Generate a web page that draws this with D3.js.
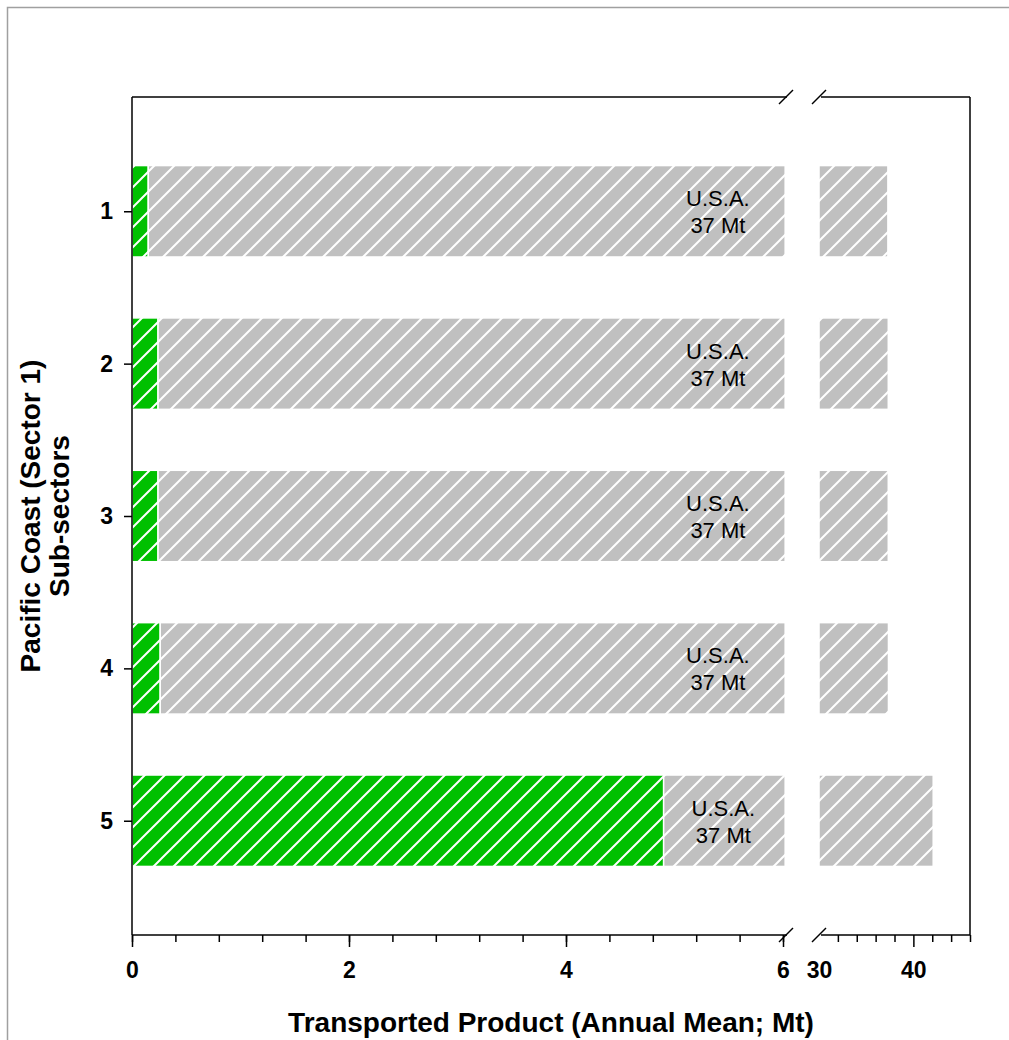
<!DOCTYPE html>
<html>
<head>
<meta charset="utf-8">
<script src="https://cdn.jsdelivr.net/npm/d3@7"></script>
<style>
  body { margin: 0; background: #fff; }
  text { font-family: "Liberation Sans", Arial, sans-serif; }
</style>
</head>
<body>
<div id="chart"></div>
<script>
// sub-sector values (Mt) and the U.S.A. block stacked after them
var subsectors = [1, 2, 3, 4, 5];
var sectorValues = [0.15, 0.24, 0.24, 0.26, 4.9];
var usaValues = [37.15, 37.1, 37.1, 37.1, 37.2];
var usaLabel = ["U.S.A.", "37 Mt"];
var leftMajorTicks = [0, 2, 4, 6];
var rightMajorTicks = [30, 40];
var rightMinorTicks = [32, 34, 36, 38, 42, 44, 46];

var W = 1009, H = 1040;
var top0 = 97, bottom0 = 935, left0 = 132, right0 = 970;

var svg = d3.select("#chart").append("svg")
  .attr("width", W)
  .attr("height", H);

// hatch pattern (lines run across both colours)
var defs = svg.append("defs");
["green", "gray"].forEach(function(name) {
  var p = defs.append("pattern")
    .attr("id", "hatch-" + name)
    .attr("patternUnits", "userSpaceOnUse")
    .attr("width", 20).attr("height", 20);
  p.append("rect").attr("width", 20).attr("height", 20)
    .attr("fill", name == "green" ? "#00c000" : "#c0c0c0");
  p.append("path")
    .attr("d", "M-5,5 L5,-5 M0,20 L20,0 M15,25 L25,15")
    .attr("stroke", "#fff").attr("stroke-width", 2);
});

// outer frame of the figure (only top and left visible)
svg.append("path")
  .attr("d", "M7.5," + H + " L7.5,7.5 L" + W + ",7.5")
  .attr("fill", "none").attr("stroke", "#a0a0a0").attr("stroke-width", 1.5);

var xLeft = d3.scaleLinear().domain([0, 6]).range([left0, 783]);
var xRight = d3.scaleLinear().domain([30, 46]).range([819, right0]);
var y = d3.scaleLinear().domain([0.25, 5.75]).range([top0, bottom0]);
var barH = (y(2) - y(1)) * 0.6;

var segments = [xLeft, xRight];

// bars
var g = svg.append("g");
subsectors.forEach(function(s, i) {
  var v = sectorValues[i], tot = v + usaValues[i];
  segments.forEach(function(sc) {
    var d0 = sc.domain()[0], d1 = sc.domain()[1];
    var pieces = [[0, v, "green"], [v, tot, "gray"]];
    pieces.forEach(function(pc) {
      var a = Math.max(d0, pc[0]), b = Math.min(sc === xLeft ? 6.02 : d1, pc[1]);
      if (b <= a) return;
      g.append("rect")
        .attr("x", sc(a))
        .attr("y", y(s) - barH / 2)
        .attr("width", sc(b) - sc(a))
        .attr("height", barH)
        .attr("fill", "url(#hatch-" + pc[2] + ")")
        .attr("stroke", "#fff")
        .attr("stroke-width", 1.5);
    });
  });
  // U.S.A. label in the visible grey part
  var lx = xLeft(Math.max(5.4, (v + 6) / 2));
  var t = g.append("text")
    .attr("x", lx)
    .attr("y", y(s) - 5)
    .attr("text-anchor", "middle")
    .style("font-size", "22px");
  t.append("tspan").attr("x", lx).text(usaLabel[0]);
  t.append("tspan").attr("x", lx).attr("dy", 27).text(usaLabel[1]);
});

// frame lines with axis break
var frame = svg.append("g").attr("fill", "none").attr("stroke", "#000").attr("stroke-width", 1.5);
[top0, bottom0].forEach(function(yy) {
  frame.append("line").attr("x1", left0).attr("x2", 787).attr("y1", yy).attr("y2", yy);
  frame.append("line").attr("x1", 821).attr("x2", right0).attr("y1", yy).attr("y2", yy);
  frame.append("line").attr("x1", 779).attr("y1", yy + 7).attr("x2", 793).attr("y2", yy - 7);
  frame.append("line").attr("x1", 812).attr("y1", yy + 7).attr("x2", 826).attr("y2", yy - 7);
});
frame.append("line").attr("x1", left0).attr("x2", left0).attr("y1", top0).attr("y2", bottom0);
frame.append("line").attr("x1", right0).attr("x2", right0).attr("y1", top0).attr("y2", bottom0);

function styleAxis(sel) {
  sel.select(".domain").remove();
  sel.selectAll("line").attr("stroke", "#000").attr("stroke-width", 1.5);
  sel.selectAll("text")
    .style("font-family", "'Liberation Sans', Arial, sans-serif")
    .style("font-size", "23px")
    .style("font-weight", "bold")
    .attr("fill", "#000");
}

// x axis, left segment
svg.append("g")
  .attr("transform", "translate(0," + bottom0 + ")")
  .call(d3.axisBottom(xLeft).tickValues(d3.range(0, 15.5).map(function(k) { return k * 0.4; }))
    .tickSize(7).tickFormat(""))
  .call(styleAxis);
svg.append("g")
  .attr("transform", "translate(0," + bottom0 + ")")
  .call(d3.axisBottom(xLeft).tickValues(leftMajorTicks).tickSize(12).tickPadding(15).tickFormat(d3.format("d")))
  .call(styleAxis);

// x axis, right segment
svg.append("g")
  .attr("transform", "translate(0," + bottom0 + ")")
  .call(d3.axisBottom(xRight).tickValues(rightMinorTicks).tickSize(7).tickFormat(""))
  .call(styleAxis);
var rMaj = svg.append("g")
  .attr("transform", "translate(0," + bottom0 + ")")
  .call(d3.axisBottom(xRight).tickValues(rightMajorTicks).tickSize(12).tickPadding(15).tickFormat(d3.format("d")))
  .call(styleAxis);
rMaj.selectAll(".tick").filter(function(d) { return d == 30; }).select("line").remove();

// y axis
svg.append("g")
  .attr("transform", "translate(" + left0 + ",0)")
  .call(d3.axisLeft(y).tickValues(subsectors).tickSize(8).tickPadding(11).tickFormat(d3.format("d")))
  .call(styleAxis);

// axis titles
svg.append("text")
  .attr("x", 551)
  .attr("y", 1032)
  .attr("text-anchor", "middle")
  .style("font-size", "28px")
  .style("font-weight", "bold")
  .text("Transported Product (Annual Mean; Mt)");

var yt = svg.append("text")
  .attr("transform", "translate(40," + y(3) + ") rotate(-90)")
  .attr("text-anchor", "middle")
  .style("font-size", "28px")
  .style("font-weight", "bold");
yt.append("tspan").attr("x", 0).attr("y", 0).text("Pacific Coast (Sector 1)");
yt.append("tspan").attr("x", 0).attr("y", 29).text("Sub-sectors");
</script>
</body>
</html>
